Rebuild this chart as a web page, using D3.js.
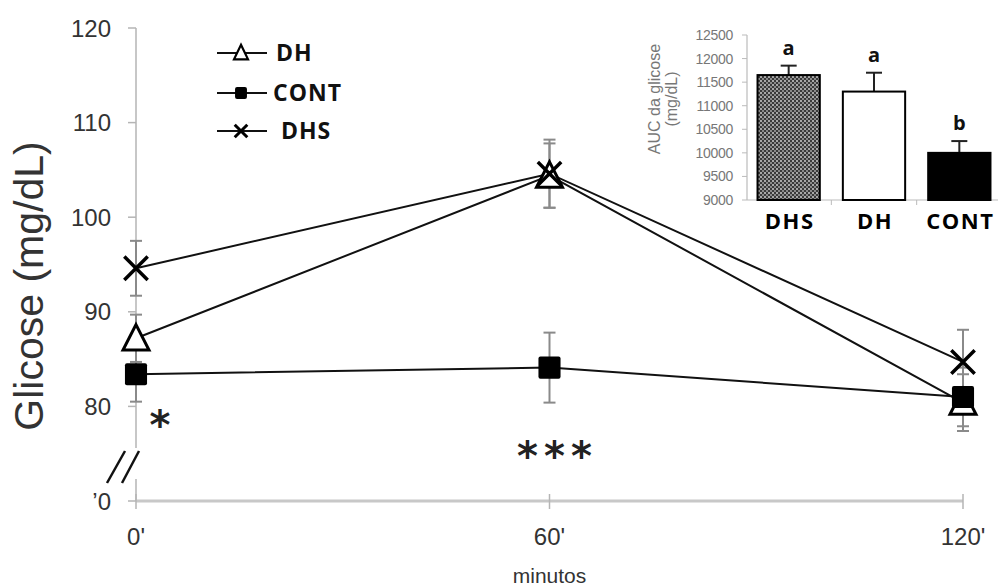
<!DOCTYPE html>
<meta charset="utf-8">
<style>
body { margin: 0; background: #fff; }
svg { display: block; }
text { font-family: "Liberation Sans", Arial, sans-serif; }
.bold { font-family: "Open Sans", sans-serif; font-weight: 700; }
.star { font-family: "DejaVu Sans", sans-serif; font-weight: 700; }
</style>
<body>
<script src="https://cdn.jsdelivr.net/npm/d3@7"></script>
<script>

// tempo (min) e glicose (mg/dL)
var minutes = [0, 60, 120];
var dhs = [94.6, 104.6, 84.7];
var dhsErr = [2.9, 3.6, 3.4];
var dh = [87.2, 104.4, 80.4];
var dhErr = [2.5, 3.4, 3.0];
var cont = [83.4, 84.1, 81.0];
var contErr = [2.9, 3.7, 3.1];

var yTicks = [80, 90, 100, 110, 120];
var xTickLabels = ["0'", "60'", "120'"];

// inset: AUC
var aucGroups = ["DHS", "DH", "CONT"];
var aucValues = [11650, 11300, 10000];
var aucErr = [200, 400, 250];
var aucLetters = ["a", "a", "b"];
var aucTicks = [9000, 9500, 10000, 10500, 11000, 11500, 12000, 12500];

var width = 998, height = 587;

var svg = d3.select("body").append("svg")
	.attr("width", width)
	.attr("height", height);

var defs = svg.append("defs");
var pat = defs.append("pattern")
	.attr("id", "dots")
	.attr("width", 4).attr("height", 4)
	.attr("patternUnits", "userSpaceOnUse");
pat.append("rect").attr("width", 4).attr("height", 4).attr("fill", "#3a3a3a");
pat.append("rect").attr("x", 0).attr("y", 0).attr("width", 2).attr("height", 2).attr("fill", "#a8a8a8");
pat.append("rect").attr("x", 2).attr("y", 2).attr("width", 2).attr("height", 2).attr("fill", "#8a8a8a");

var x = d3.scaleLinear().domain([0, 120]).range([136, 963]);
var y = d3.scaleLinear().domain([70, 120]).range([501, 28]);

/* ---- eixos ---- */
var axisColor = "#b5b5b5";

// y axis with break
var ya = svg.append("g");
ya.append("line")
	.attr("x1", x(0)).attr("x2", x(0))
	.attr("y1", y(120)).attr("y2", 448)
	.attr("stroke", axisColor).attr("stroke-width", 1.5);
ya.append("line")
	.attr("x1", x(0)).attr("x2", x(0))
	.attr("y1", 479).attr("y2", y(70))
	.attr("stroke", axisColor).attr("stroke-width", 1.5);

ya.selectAll("line.tick").data(yTicks.concat([70])).enter()
	.append("line").attr("class", "tick")
	.attr("x1", x(0) - 8).attr("x2", x(0))
	.attr("y1", function(d) { return y(d); })
	.attr("y2", function(d) { return y(d); })
	.attr("stroke", axisColor).attr("stroke-width", 1.5);

ya.selectAll("text").data(yTicks).enter()
	.append("text")
	.attr("x", 111)
	.attr("y", function(d) { return y(d); })
	.attr("dy", "0.36em")
	.attr("text-anchor", "end")
	.attr("font-size", 24)
	.attr("fill", "#333")
	.text(function(d) { return d; });

ya.append("text")
	.attr("x", 111).attr("y", y(70))
	.attr("dy", "0.36em")
	.attr("text-anchor", "end")
	.attr("font-size", 24)
	.attr("fill", "#333")
	.text("\u20190");

// break marks
[[107, 483, 125, 451], [122, 483, 139, 451]].forEach(function(b) {
	ya.append("line")
		.attr("x1", b[0]).attr("y1", b[1]).attr("x2", b[2]).attr("y2", b[3])
		.attr("stroke", "#111").attr("stroke-width", 2.5);
});

// x axis
var xa = svg.append("g").attr("transform", "translate(0," + y(70) + ")");
xa.append("line")
	.attr("x1", x(0)).attr("x2", x(120))
	.attr("stroke", "#c8c8c8").attr("stroke-width", 3);
xa.selectAll("line.tick").data(minutes).enter()
	.append("line").attr("class", "tick")
	.attr("x1", function(d) { return x(d); })
	.attr("x2", function(d) { return x(d); })
	.attr("y1", -7).attr("y2", 8)
	.attr("stroke", axisColor).attr("stroke-width", 1.5);
xa.selectAll("text").data(minutes).enter()
	.append("text")
	.attr("x", function(d) { return x(d); })
	.attr("y", 44)
	.attr("text-anchor", "middle")
	.attr("font-size", 24)
	.attr("fill", "#333")
	.text(function(d, i) { return xTickLabels[i]; });

svg.append("text")
	.attr("x", x(60)).attr("y", 583)
	.attr("text-anchor", "middle")
	.attr("font-size", 21)
	.attr("fill", "#333")
	.text("minutos");

svg.append("text")
	.attr("transform", "translate(43,286) rotate(-90)")
	.attr("text-anchor", "middle")
	.attr("font-size", 41)
	.attr("fill", "#333")
	.text("Glicose (mg/dL)");

/* ---- séries ---- */
var series = [
	{ name: "DH", values: dh, err: dhErr, marker: "tri" },
	{ name: "CONT", values: cont, err: contErr, marker: "sq" },
	{ name: "DHS", values: dhs, err: dhsErr, marker: "x" }
];

var line = d3.line()
	.x(function(d, i) { return x(minutes[i]); })
	.y(function(d) { return y(d); });

// error bars
series.forEach(function(s) {
	var g = svg.append("g");
	s.values.forEach(function(v, i) {
		var cx = x(minutes[i]);
		g.append("line")
			.attr("x1", cx).attr("x2", cx)
			.attr("y1", y(v + s.err[i])).attr("y2", y(v - s.err[i]))
			.attr("stroke", "#8a8a8a").attr("stroke-width", 2);
		[v + s.err[i], v - s.err[i]].forEach(function(e) {
			g.append("line")
				.attr("x1", cx - 6).attr("x2", cx + 6)
				.attr("y1", y(e)).attr("y2", y(e))
				.attr("stroke", "#8a8a8a").attr("stroke-width", 2);
		});
	});
});

series.forEach(function(s) {
	svg.append("path")
		.datum(s.values)
		.attr("d", line)
		.attr("fill", "none")
		.attr("stroke", "#111")
		.attr("stroke-width", 2);
});

function drawMarker(g, type, cx, cy, size) {
	if (type == "tri") {
		var h = size * 0.9;
		g.append("path")
			.attr("d", "M" + cx + "," + (cy - h / 2 - 2) + "L" + (cx + size / 2) + "," + (cy + h / 2) + "L" + (cx - size / 2) + "," + (cy + h / 2) + "Z")
			.attr("fill", "#fff").attr("stroke", "#000")
			.attr("stroke-width", size > 15 ? 3 : 2.2).attr("stroke-linejoin", "miter");
	} else if (type == "sq") {
		var w = size * 0.85;
		g.append("rect")
			.attr("x", cx - w / 2).attr("y", cy - w / 2)
			.attr("width", w).attr("height", w)
			.attr("rx", 2)
			.attr("fill", "#000");
	} else {
		var r = size * 0.45;
		g.append("path")
			.attr("d", "M" + (cx - r) + "," + (cy - r) + "L" + (cx + r) + "," + (cy + r) + "M" + (cx + r) + "," + (cy - r) + "L" + (cx - r) + "," + (cy + r))
			.attr("stroke", "#000").attr("stroke-width", size > 15 ? 3.5 : 3);
	}
}

series.forEach(function(s) {
	var g = svg.append("g");
	s.values.forEach(function(v, i) {
		drawMarker(g, s.marker, x(minutes[i]), y(v), 26);
	});
});

// significance
svg.append("text")
	.attr("class", "star")
	.attr("x", 160).attr("y", 439)
	.attr("text-anchor", "middle")
	.attr("font-size", 40)
	.attr("fill", "#222")
	.text("*");
svg.append("text")
	.attr("class", "star")
	.attr("x", x(60) + 8).attr("y", 470)
	.attr("text-anchor", "middle")
	.attr("font-size", 40)
	.attr("letter-spacing", 6)
	.attr("fill", "#222")
	.text("***");

/* ---- legenda ---- */
var legend = svg.append("g");
series.forEach(function(s, i) {
	var ly = [53, 93, 131][i];
	legend.append("line")
		.attr("x1", 217).attr("x2", 267)
		.attr("y1", ly).attr("y2", ly)
		.attr("stroke", "#111").attr("stroke-width", 2);
	drawMarker(legend, s.marker, 241, ly, 14);
	legend.append("text")
		.attr("class", "bold")
		.attr("x", [276, 273, 281][i]).attr("y", ly)
		.attr("dy", "0.36em")
		.attr("font-size", 23)
		.attr("letter-spacing", 1)
		.attr("fill", "#111")
		.text(s.name);
});

/* ---- inset AUC ---- */
var iy = d3.scaleLinear().domain([9000, 12500]).range([200, 35]);
var ix = d3.scaleBand().domain(aucGroups).range([746, 1002]).paddingInner(0.27).paddingOuter(0.135);

var inset = svg.append("g");
inset.append("line")
	.attr("x1", 747).attr("x2", 747)
	.attr("y1", iy(12500)).attr("y2", iy(9000))
	.attr("stroke", "#bbb").attr("stroke-width", 1.2);
inset.selectAll("line.tick").data(aucTicks).enter()
	.append("line").attr("class", "tick")
	.attr("x1", 742).attr("x2", 747)
	.attr("y1", function(d) { return iy(d); })
	.attr("y2", function(d) { return iy(d); })
	.attr("stroke", "#bbb");
inset.selectAll("text.tl").data(aucTicks).enter()
	.append("text").attr("class", "tl")
	.attr("x", 733)
	.attr("y", function(d) { return iy(d); })
	.attr("dy", "0.36em")
	.attr("text-anchor", "end")
	.attr("font-size", 14)
	.attr("letter-spacing", -0.3)
	.attr("fill", "#777")
	.text(function(d) { return d; });

inset.append("text")
	.attr("transform", "translate(660,99) rotate(-90)")
	.attr("text-anchor", "middle")
	.attr("font-size", 16)
	.attr("fill", "#777")
	.text("AUC da glicose");
inset.append("text")
	.attr("transform", "translate(677,99) rotate(-90)")
	.attr("text-anchor", "middle")
	.attr("font-size", 16)
	.attr("fill", "#777")
	.text("(mg/dL)");

inset.append("line")
	.attr("x1", 747).attr("x2", 998)
	.attr("y1", iy(9000)).attr("y2", iy(9000))
	.attr("stroke", "#bbb").attr("stroke-width", 1.2);
[1, 2].forEach(function(i) {
	var tx = ix(aucGroups[i]) - ix.step() * ix.paddingInner() / 2;
	inset.append("line")
		.attr("x1", tx).attr("x2", tx)
		.attr("y1", iy(9000)).attr("y2", iy(9000) + 5)
		.attr("stroke", "#bbb");
});

var fills = ["url(#dots)", "#fff", "#000"];
aucGroups.forEach(function(g, i) {
	var bx = ix(g), bw = ix.bandwidth();
	var cx = bx + bw / 2;
	var top = iy(aucValues[i] + aucErr[i]);
	inset.append("line")
		.attr("x1", cx).attr("x2", cx)
		.attr("y1", iy(aucValues[i])).attr("y2", top)
		.attr("stroke", "#222").attr("stroke-width", 2);
	inset.append("line")
		.attr("x1", cx - 8).attr("x2", cx + 8)
		.attr("y1", top).attr("y2", top)
		.attr("stroke", "#222").attr("stroke-width", 2);
	inset.append("rect")
		.attr("x", bx).attr("y", iy(aucValues[i]))
		.attr("width", bw).attr("height", iy(9000) - iy(aucValues[i]))
		.attr("fill", fills[i])
		.attr("stroke", "#000").attr("stroke-width", 2);
	inset.append("text")
		.attr("class", "bold")
		.attr("x", cx).attr("y", top - 11)
		.attr("text-anchor", "middle")
		.attr("font-size", 20)
		.attr("fill", "#111")
		.text(aucLetters[i]);
	inset.append("text")
		.attr("class", "bold")
		.attr("x", cx + 1).attr("y", 229)
		.attr("text-anchor", "middle")
		.attr("font-size", 22)
		.attr("letter-spacing", 1.5)
		.attr("fill", "#000")
		.text(g);
});

</script>
</body>
